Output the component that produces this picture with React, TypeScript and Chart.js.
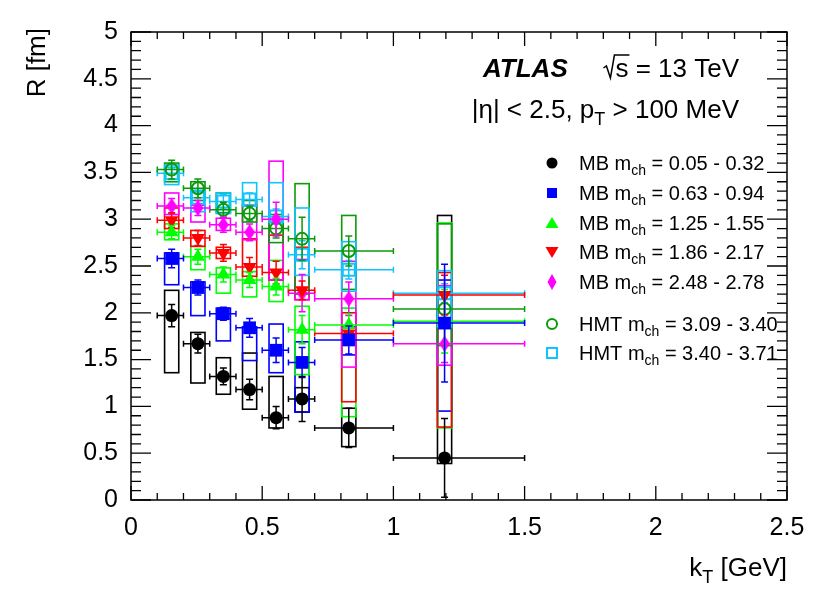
import React, { useEffect, useRef } from 'react';
import { Chart, registerables } from 'chart.js';

Chart.register(...registerables);

// ---------------- data ----------------
const kT = [0.155, 0.255, 0.352, 0.452, 0.553, 0.652, 0.83, 1.195];
const kTLow = [0.1, 0.2, 0.3, 0.4, 0.5, 0.6, 0.7, 1.0];
const kTHigh = [0.2, 0.3, 0.4, 0.5, 0.6, 0.7, 1.0, 1.5];
const sysHalfWidth = 0.027;

const xTicks = [0, 0.5, 1, 1.5, 2, 2.5];
const xTickLabels = ['0', '0.5', '1', '1.5', '2', '2.5'];
const yTicks = [0, 0.5, 1, 1.5, 2, 2.5, 3, 3.5, 4, 4.5, 5];
const yTickLabels = ['0', '0.5', '1', '1.5', '2', '2.5', '3', '3.5', '4', '4.5', '5'];

const seriesNames = ['MB', 'MB', 'MB', 'MB', 'MB', 'HMT', 'HMT'];
const seriesRanges = ['0.05 - 0.32', '0.63 - 0.94', '1.25 - 1.55', '1.86 - 2.17', '2.48 - 2.78', '3.09 - 3.40', '3.40 - 3.71'];

const rMB1 = [1.97, 1.67, 1.32, 1.18, 0.88, 1.08, 0.77, 0.45];
const statMB1 = [0.12, 0.10, 0.09, 0.11, 0.12, 0.24, 0.21, 0.42];
const sysLoMB1 = [1.36, 1.25, 1.13, 0.97, 0.77, 0.94, 0.57, 0.39];
const sysHiMB1 = [2.24, 1.79, 1.52, 1.57, 1.32, 1.20, 0.98, 3.04];

const rMB2 = [2.58, 2.27, 1.99, 1.84, 1.60, 1.47, 1.71, 1.89];
const statMB2 = [0.10, 0.08, 0.07, 0.10, 0.13, 0.16, 0.15, 0.63];
const sysLoMB2 = [2.30, 1.97, 1.70, 1.49, 1.36, 0.94, 1.55, 0.95];
const sysHiMB2 = [2.64, 2.33, 2.05, 1.85, 1.88, 1.69, 1.85, 2.35];

const rMB3 = [2.86, 2.60, 2.41, 2.35, 2.28, 1.82, 1.87, 1.91];
const statMB3 = [0.07, 0.08, 0.08, 0.08, 0.09, 0.15, 0.12, 0.34];
const sysLoMB3 = [2.78, 2.46, 2.21, 2.17, 2.12, 1.34, 0.89, 0.77];
const sysHiMB3 = [2.95, 2.71, 2.48, 2.44, 2.56, 2.07, 2.05, 2.96];

const rMB4 = [2.99, 2.80, 2.64, 2.49, 2.43, 2.24, 1.78, 2.19];
const statMB4 = [0.08, 0.08, 0.09, 0.10, 0.12, 0.10, 0.10, 0.21];
const sysLoMB4 = [2.90, 2.71, 2.58, 2.39, 2.35, 2.14, 1.05, 0.78];
const sysHiMB4 = [3.12, 2.88, 2.70, 2.79, 2.83, 2.70, 2.00, 2.43];

const rMB5 = [3.14, 3.12, 2.94, 2.86, 3.00, 2.21, 2.15, 1.67];
const statMB5 = [0.08, 0.08, 0.08, 0.09, 0.18, 0.20, 0.18, 0.20];
const sysLoMB5 = [3.05, 2.97, 2.88, 2.78, 2.35, 2.14, 1.42, 1.44];
const sysHiMB5 = [3.28, 3.15, 3.01, 3.15, 3.62, 2.57, 2.55, 2.29];

const rHMT1 = [3.53, 3.33, 3.10, 3.06, 2.90, 2.79, 2.66, 2.04];
const statHMT1 = [0.10, 0.10, 0.08, 0.08, 0.10, 0.23, 0.16, 0.12];
const sysLoHMT1 = [3.40, 3.20, 3.07, 2.97, 2.75, 2.20, 2.25, 1.65];
const sysHiHMT1 = [3.60, 3.40, 3.28, 3.20, 3.05, 3.38, 3.04, 2.95];

const rHMT2 = [3.49, 3.23, 3.19, 3.21, 3.03, 2.62, 2.46, 2.21];
const statHMT2 = [0.06, 0.07, 0.07, 0.07, 0.08, 0.15, 0.10, 0.10];
const sysLoHMT2 = [3.37, 3.08, 3.06, 3.14, 2.97, 2.40, 2.23, 1.85];
const sysHiHMT2 = [3.58, 3.31, 3.28, 3.39, 3.39, 3.12, 2.76, 2.45];

const colors = ['#000000', '#0000ff', '#00ff00', '#ff0000', '#ff00ff', '#0a9a0a', '#10c4ff'];
const markers = ['circle', 'square', 'triUp', 'triDown', 'diamond', 'openCircle', 'openSquare'];

const values = [rMB1, rMB2, rMB3, rMB4, rMB5, rHMT1, rHMT2];
const stats = [statMB1, statMB2, statMB3, statMB4, statMB5, statHMT1, statHMT2];
const sysLos = [sysLoMB1, sysLoMB2, sysLoMB3, sysLoMB4, sysLoMB5, sysLoHMT1, sysLoHMT2];
const sysHis = [sysHiMB1, sysHiMB2, sysHiMB3, sysHiMB4, sysHiMB5, sysHiHMT1, sysHiHMT2];

const FONT = '"Liberation Sans", Arial, Helvetica, sans-serif';

function diamondImage(w: number, h: number, color: string) {
  const c = document.createElement('canvas');
  c.width = w;
  c.height = h;
  const g = c.getContext('2d')!;
  g.fillStyle = color;
  g.beginPath();
  g.moveTo(w / 2, 0);
  g.lineTo(w, h / 2);
  g.lineTo(w / 2, h);
  g.lineTo(0, h / 2);
  g.closePath();
  g.fill();
  return c;
}

function drawLegendMarker(ctx: CanvasRenderingContext2D, kind: string, color: string, x: number, y: number) {
  ctx.save();
  ctx.fillStyle = color;
  ctx.strokeStyle = color;
  ctx.lineWidth = 2;
  ctx.beginPath();
  if (kind === 'circle') {
    ctx.arc(x, y, 5.5, 0, Math.PI * 2);
    ctx.fill();
  } else if (kind === 'square') {
    ctx.rect(x - 5, y - 5, 10, 10);
    ctx.fill();
  } else if (kind === 'triUp') {
    ctx.moveTo(x, y - 6);
    ctx.lineTo(x + 6.5, y + 5);
    ctx.lineTo(x - 6.5, y + 5);
    ctx.closePath();
    ctx.fill();
  } else if (kind === 'triDown') {
    ctx.moveTo(x, y + 6);
    ctx.lineTo(x + 6.5, y - 5);
    ctx.lineTo(x - 6.5, y - 5);
    ctx.closePath();
    ctx.fill();
  } else if (kind === 'diamond') {
    ctx.moveTo(x, y - 8);
    ctx.lineTo(x + 4.5, y);
    ctx.lineTo(x, y + 8);
    ctx.lineTo(x - 4.5, y);
    ctx.closePath();
    ctx.fill();
  } else if (kind === 'openCircle') {
    ctx.arc(x, y, 5, 0, Math.PI * 2);
    ctx.stroke();
  } else if (kind === 'openSquare') {
    ctx.rect(x - 5, y - 5, 10, 10);
    ctx.stroke();
  }
  ctx.restore();
}

const rootPlugin = {
  id: 'rootStyle',
  beforeDatasetsDraw(chart: any) {
    const { ctx, chartArea: a, scales } = chart;
    const xs = scales.x;
    const ys = scales.y;
    ctx.save();
    // frame
    ctx.strokeStyle = '#000';
    ctx.lineWidth = 1.5;
    ctx.strokeRect(a.left, a.top, a.right - a.left, a.bottom - a.top);
    // ticks
    ctx.lineWidth = 1.3;
    ctx.beginPath();
    for (let i = 0; i <= 50; i++) {
      const v = i / 10;
      const py = ys.getPixelForValue(v);
      const len = i % 5 === 0 ? 20 : 10;
      ctx.moveTo(a.left, py);
      ctx.lineTo(a.left + len, py);
      ctx.moveTo(a.right, py);
      ctx.lineTo(a.right - len, py);
    }
    for (let i = 0; i <= 25; i++) {
      const v = i / 10;
      const px = xs.getPixelForValue(v);
      const len = i % 5 === 0 ? 14 : 7;
      ctx.moveTo(px, a.bottom);
      ctx.lineTo(px, a.bottom - len);
      ctx.moveTo(px, a.top);
      ctx.lineTo(px, a.top + len);
    }
    ctx.stroke();
    // systematic boxes
    ctx.lineWidth = 1.6;
    values.forEach((_, s) => {
      ctx.strokeStyle = colors[s];
      kT.forEach((k, i) => {
        const x0 = xs.getPixelForValue(k - sysHalfWidth);
        const x1 = xs.getPixelForValue(k + sysHalfWidth);
        const y0 = ys.getPixelForValue(sysHis[s][i]);
        const y1 = ys.getPixelForValue(sysLos[s][i]);
        ctx.strokeRect(x0, y0, x1 - x0, y1 - y0);
      });
    });
    ctx.restore();
  },
  beforeDatasetDraw(chart: any, args: any) {
    const s = args.index;
    const { ctx, scales } = chart;
    const xs = scales.x;
    const ys = scales.y;
    ctx.save();
    ctx.strokeStyle = colors[s];
    ctx.lineWidth = 1.5;
    ctx.beginPath();
    kT.forEach((k, i) => {
      const px = xs.getPixelForValue(k);
      const py = ys.getPixelForValue(values[s][i]);
      const xl = xs.getPixelForValue(kTLow[i]);
      const xh = xs.getPixelForValue(kTHigh[i]);
      const yl = ys.getPixelForValue(values[s][i] - stats[s][i]);
      const yh = ys.getPixelForValue(values[s][i] + stats[s][i]);
      ctx.moveTo(xl, py);
      ctx.lineTo(xh, py);
      ctx.moveTo(xl, py - 3);
      ctx.lineTo(xl, py + 3);
      ctx.moveTo(xh, py - 3);
      ctx.lineTo(xh, py + 3);
      ctx.moveTo(px, yl);
      ctx.lineTo(px, yh);
      ctx.moveTo(px - 3.5, yl);
      ctx.lineTo(px + 3.5, yl);
      ctx.moveTo(px - 3.5, yh);
      ctx.lineTo(px + 3.5, yh);
    });
    ctx.stroke();
    ctx.restore();
  },
  afterDraw(chart: any) {
    const { ctx, chartArea: a } = chart;
    ctx.save();
    ctx.fillStyle = '#000';
    ctx.textBaseline = 'alphabetic';

    // y title (rotated)
    ctx.save();
    ctx.translate(45, a.top - 4);
    ctx.rotate(-Math.PI / 2);
    ctx.textAlign = 'right';
    ctx.font = `26px ${FONT}`;
    ctx.fillText('R [fm]', 0, 0);
    ctx.restore();

    // x title with subscript
    {
      ctx.textAlign = 'left';
      const big = `26px ${FONT}`;
      const small = `18px ${FONT}`;
      ctx.font = big;
      const w1 = ctx.measureText('k').width;
      const w3 = ctx.measureText(' [GeV]').width;
      ctx.font = small;
      const w2 = ctx.measureText('T').width;
      const base = 576;
      let x0 = a.right - (w1 + w2 + w3);
      ctx.font = big;
      ctx.fillText('k', x0, base);
      x0 += w1;
      ctx.font = small;
      ctx.fillText('T', x0, base + 7);
      x0 += w2;
      ctx.font = big;
      ctx.fillText(' [GeV]', x0, base);
    }

    // ATLAS label
    {
      ctx.textAlign = 'left';
      ctx.font = `italic bold 26px ${FONT}`;
      ctx.fillText('ATLAS', 483, 77);
      ctx.font = `26px ${FONT}`;
      const rest = ' = 13 TeV';
      const wRest = ctx.measureText(rest).width;
      const wS = ctx.measureText('s').width;
      const end = 739;
      const sx = end - wRest - wS;
      ctx.fillText('s', sx, 77);
      ctx.fillText(rest, sx + wS, 77);
      // radical sign
      ctx.strokeStyle = '#000';
      ctx.lineWidth = 1.5;
      ctx.beginPath();
      ctx.moveTo(sx - 12, 68);
      ctx.lineTo(sx - 9, 66);
      ctx.lineTo(sx - 5, 78);
      ctx.lineTo(sx - 1, 55);
      ctx.lineTo(sx + wS + 1, 55);
      ctx.stroke();
    }
    {
      const big = `26px ${FONT}`;
      const small = `18px ${FONT}`;
      const p1 = '|\u03b7| < 2.5, p';
      const p2 = 'T';
      const p3 = ' > 100 MeV';
      ctx.font = big;
      const w1 = ctx.measureText(p1).width;
      const w3 = ctx.measureText(p3).width;
      ctx.font = small;
      const w2 = ctx.measureText(p2).width;
      let x0 = 739 - (w1 + w2 + w3);
      const base = 118;
      ctx.font = big;
      ctx.fillText(p1, x0, base);
      x0 += w1;
      ctx.font = small;
      ctx.fillText(p2, x0, base + 7);
      x0 += w2;
      ctx.font = big;
      ctx.fillText(p3, x0, base);
    }

    // legend
    const rowsY = [163, 193, 223, 252, 282, 324, 353];
    values.forEach((_, s) => {
      const cy = rowsY[s];
      drawLegendMarker(ctx, markers[s], colors[s], 552, cy);
      ctx.fillStyle = '#000';
      const big = `20px ${FONT}`;
      const small = `14px ${FONT}`;
      let x0 = 579;
      const base = cy + 7;
      ctx.font = big;
      const t1 = `${seriesNames[s]} m`;
      ctx.fillText(t1, x0, base);
      x0 += ctx.measureText(t1).width;
      ctx.font = small;
      ctx.fillText('ch', x0, base + 5);
      x0 += ctx.measureText('ch').width;
      ctx.font = big;
      ctx.fillText(` = ${seriesRanges[s]}`, x0, base);
    });
    ctx.restore();
  },
};

function pointProps(s: number) {
  const c = colors[s];
  switch (markers[s]) {
    case 'circle':
      return { pointStyle: 'circle', pointRadius: 6.5, pointBackgroundColor: c, pointBorderColor: c, pointBorderWidth: 0 };
    case 'square':
      return { pointStyle: 'rect', pointRadius: 9, pointBackgroundColor: c, pointBorderColor: c, pointBorderWidth: 0 };
    case 'triUp':
      return { pointStyle: 'triangle', pointRadius: 8, pointBackgroundColor: c, pointBorderColor: c, pointBorderWidth: 0 };
    case 'triDown':
      return { pointStyle: 'triangle', pointRotation: 180, pointRadius: 8, pointBackgroundColor: c, pointBorderColor: c, pointBorderWidth: 0 };
    case 'diamond':
      return { pointStyle: diamondImage(11, 16, c), pointRadius: 8 };
    case 'openCircle':
      return { pointStyle: 'circle', pointRadius: 6, pointBackgroundColor: 'rgba(0,0,0,0)', pointBorderColor: c, pointBorderWidth: 2 };
    default:
      return { pointStyle: 'rect', pointRadius: 8.5, pointBackgroundColor: 'rgba(0,0,0,0)', pointBorderColor: c, pointBorderWidth: 2 };
  }
}

export default function App() {
  const canvasRef = useRef<HTMLCanvasElement | null>(null);

  useEffect(() => {
    document.body.style.margin = '0';
    const canvas = canvasRef.current;
    if (!canvas) return;
    const datasets = values.map((vals, s) => ({
      label: `${seriesNames[s]} ${seriesRanges[s]}`,
      data: kT.map((k, i) => ({ x: k, y: vals[i] })),
      showLine: false,
      ...pointProps(s),
    }));
    const chart = new Chart(canvas, {
      type: 'scatter',
      data: { datasets: datasets as any },
      plugins: [rootPlugin as any],
      options: {
        animation: false,
        responsive: false,
        devicePixelRatio: 1,
        events: [],
        layout: { padding: { top: 32, right: 43, left: 0, bottom: 0 } },
        plugins: { legend: { display: false }, tooltip: { enabled: false } },
        scales: {
          x: {
            type: 'linear',
            min: 0,
            max: 2.5,
            afterFit: (s: any) => {
              s.height = 96;
            },
            afterBuildTicks: (s: any) => {
              s.ticks = xTicks.map((v) => ({ value: v }));
            },
            grid: { display: false },
            border: { display: false },
            ticks: {
              color: '#000',
              font: { family: FONT, size: 25 },
              padding: 5,
              maxRotation: 0,
              autoSkip: false,
              callback: (v: any) => {
                const i = xTicks.indexOf(Number(v));
                return i >= 0 ? xTickLabels[i] : '';
              },
            },
          },
          y: {
            type: 'linear',
            min: 0,
            max: 5,
            afterFit: (s: any) => {
              s.width = 131;
            },
            afterBuildTicks: (s: any) => {
              s.ticks = yTicks.map((v) => ({ value: v }));
            },
            grid: { display: false },
            border: { display: false },
            ticks: {
              color: '#000',
              font: { family: FONT, size: 25 },
              padding: 5,
              autoSkip: false,
              callback: (v: any) => {
                const i = yTicks.indexOf(Number(v));
                return i >= 0 ? yTickLabels[i] : '';
              },
            },
          },
        },
      } as any,
    });
    return () => chart.destroy();
  }, []);

  return (
    <div style={{ width: 830, height: 596, background: '#fff' }}>
      <canvas ref={canvasRef} width={830} height={596} style={{ width: 830, height: 596, display: 'block' }} />
    </div>
  );
}
